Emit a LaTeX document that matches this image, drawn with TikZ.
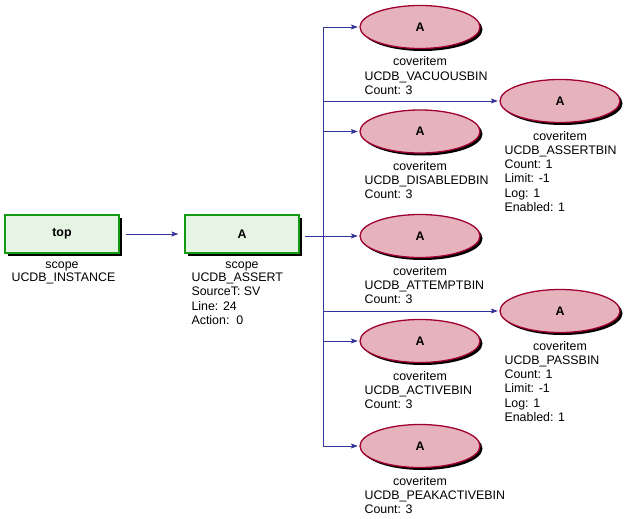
\documentclass[tikz,border=0pt]{standalone}
\usepackage{fontspec}
\setmainfont{Liberation Sans}
\usetikzlibrary{positioning,calc,shapes.geometric,shadows,arrows.meta}
\definecolor{scopefill}{HTML}{E6F4E4}
\definecolor{scopeline}{HTML}{159A15}
\definecolor{itemfill}{HTML}{E6B3BD}
\definecolor{itemline}{HTML}{A00030}
\definecolor{linkcol}{HTML}{333399}

\begin{document}
\begin{tikzpicture}[
				x=1pt, y=-1pt,
				every node/.style={font=\fontsize{12.4}{14.3}\selectfont},
				scopebox/.style={rectangle, draw=scopeline, line width=1.3pt, fill=scopefill, minimum width=114pt, minimum height=38pt, inner sep=0pt, font=\fontsize{12.4}{14.3}\selectfont\bfseries, drop shadow={shadow xshift=3pt, shadow yshift=-3pt, fill=black, opacity=1}},
				itembox/.style={ellipse, draw=itemline, line width=1.3pt, fill=itemfill, minimum width=120pt, minimum height=43pt, inner sep=0pt, font=\fontsize{12.4}{14.3}\selectfont\bfseries, drop shadow={shadow xshift=2.5pt, shadow yshift=-2.5pt, fill=black, opacity=1}},
				kindlabel/.style={anchor=base, inner sep=0pt},
				infolabel/.style={anchor=north west, inner sep=0pt, align=left},
				link/.style={draw=linkcol, line width=0.9pt, -{Stealth[length=7pt, width=5pt, inset=1.5pt]}}
			]
			\useasboundingbox (0,0) rectangle (632,519);
			\node[scopebox] (top) at (62,234) {top};
			\node[scopebox] (assert) at (242,234) {A};
			\node[itembox] (vacuous) at (420,27) {A};
			\node[itembox] (disabled) at (420,131.5) {A};
			\node[itembox] (attempt) at (420,236) {A};
			\node[itembox] (active) at (420,341) {A};
			\node[itembox] (peak) at (420,446) {A};
			\node[itembox] (assertbin) at (560,101) {A};
			\node[itembox] (passbin) at (560,311) {A};
			% labels under the nodes
			\node[kindlabel] (topkind) at ($(top.center)+(0,34)$) {scope};
			\node[infolabel] (topinfo) at ($(top.west)+(7,38.7)$) {UCDB\_INSTANCE};
			\node[kindlabel] (assertkind) at ($(assert.center)+(0,34)$) {scope};
			\node[infolabel] (assertinfo) at ($(assert.west)+(7,38.7)$) {UCDB\_ASSERT\\SourceT: SV\\Line: 24\\Action:\ \ 0};
			\node[kindlabel] (vacuouskind) at ($(vacuous.center)+(0,39)$) {coveritem};
			\node[infolabel] (vacuousinfo) at ($(vacuous.west)+(5,44.3)$) {UCDB\_VACUOUSBIN\\Count: 3};
			\node[kindlabel] (disabledkind) at ($(disabled.center)+(0,39)$) {coveritem};
			\node[infolabel] (disabledinfo) at ($(disabled.west)+(5,44.3)$) {UCDB\_DISABLEDBIN\\Count: 3};
			\node[kindlabel] (attemptkind) at ($(attempt.center)+(0,39)$) {coveritem};
			\node[infolabel] (attemptinfo) at ($(attempt.west)+(5,44.3)$) {UCDB\_ATTEMPTBIN\\Count: 3};
			\node[kindlabel] (activekind) at ($(active.center)+(0,39)$) {coveritem};
			\node[infolabel] (activeinfo) at ($(active.west)+(5,44.3)$) {UCDB\_ACTIVEBIN\\Count: 3};
			\node[kindlabel] (peakkind) at ($(peak.center)+(0,39)$) {coveritem};
			\node[infolabel] (peakinfo) at ($(peak.west)+(5,44.3)$) {UCDB\_PEAKACTIVEBIN\\Count: 3};
			\node[kindlabel] (assertbinkind) at ($(assertbin.center)+(0,39)$) {coveritem};
			\node[infolabel] (assertbininfo) at ($(assertbin.west)+(5,44.3)$) {UCDB\_ASSERTBIN\\Count: 1\\Limit: -1\\Log: 1\\Enabled: 1};
			\node[kindlabel] (passbinkind) at ($(passbin.center)+(0,39)$) {coveritem};
			\node[infolabel] (passbininfo) at ($(passbin.west)+(5,44.3)$) {UCDB\_PASSBIN\\Count: 1\\Limit: -1\\Log: 1\\Enabled: 1};
			% connectors
			\coordinate (fork) at (323,236);
			\draw[link] (top.east) -- (assert.west) [shorten <=6pt, shorten >=6pt];
			\draw[link, -] (assert.east |- fork) -- (fork) [shorten <=5pt];
			\begin{scope}[shorten >=1.5pt]
			\draw[link] (fork) |- (vacuous.west);
			\draw[link] (fork) |- (disabled.west);
			\draw[link] (fork) |- (attempt.west);
			\draw[link] (fork) |- (active.west);
			\draw[link] (fork) |- (peak.west);
			\draw[link] (fork) |- (assertbin.west);
			\draw[link] (fork) |- (passbin.west);
			\end{scope}
			\end{tikzpicture}
\end{document}
